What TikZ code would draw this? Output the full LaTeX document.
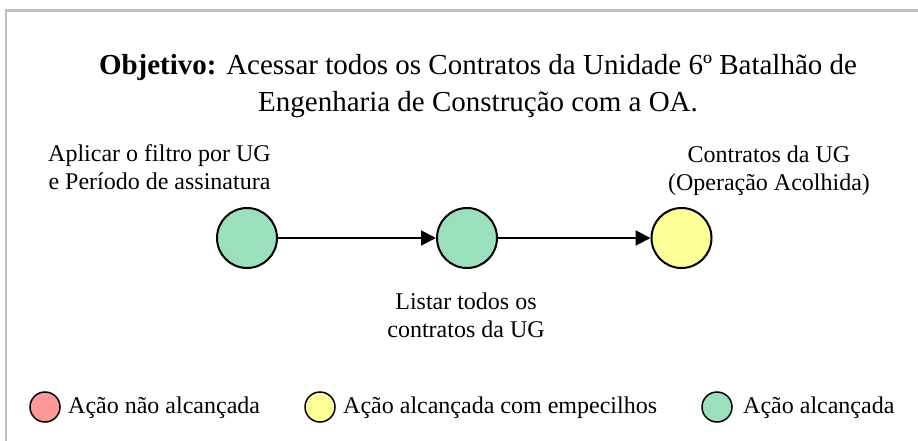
\documentclass[tikz,border=0pt]{standalone}
\usepackage{fontspec}
\setmainfont{Liberation Serif}
\usetikzlibrary{arrows.meta}
\definecolor{okgreen}{RGB}{154,224,188}
\definecolor{warnyellow}{RGB}{255,255,153}
\definecolor{failred}{RGB}{255,153,153}
\definecolor{framegray}{RGB}{192,192,192}
\begin{document}
\begin{tikzpicture}[x=1pt,y=-1pt,
  state/.style={circle,draw=black,line width=2pt,minimum size=60pt,inner sep=0pt},
  legendmark/.style={circle,draw=black,line width=1.5pt,minimum size=30pt,inner sep=0pt},
  lbl/.style={align=center,inner sep=0pt,font=\fontsize{24}{27.6}\selectfont},
  legtext/.style={anchor=base west,inner sep=0pt,font=\fontsize{24}{27.6}\selectfont},
  flow/.style={line width=2pt,-{Triangle[length=15pt,width=15pt]}}]
\useasboundingbox (0,0) rectangle (918,441);
\fill[white] (0,0) rectangle (918,441);
% frame
\draw[framegray,line width=2.5pt] (6,445) -- (6,10.5) -- (925,10.5);
% title
\node[align=center,inner sep=0pt,anchor=base,font=\fontsize{29}{37}\selectfont] (title) at (478,112)
  {\textbf{Objetivo:} Acessar todos os Contratos da Unidade 6º Batalhão de\\Engenharia de Construção com a OA.};
% states
\node[state,fill=okgreen] (s1) at (247,238) {};
\node[state,fill=okgreen] (s2) at (467,238) {};
\node[state,fill=warnyellow] (s3) at (681.5,238) {};
\draw[flow] (s1) -- (s2);
\draw[flow] (s2) -- (s3);
% labels
\node[lbl,anchor=base] (l1) at (159.5,189) {Aplicar o filtro por UG\\e Período de assinatura};
\node[lbl,anchor=base] (l2) at (466,337) {Listar todos os\\contratos da UG};
\node[lbl,anchor=base] (l3) at (769,190) {Contratos da UG\\(Operação Acolhida)};
% legend
\node[legendmark,fill=failred] (m1) at (45,407) {};
\node[legtext] (t1) at (68,413) {Ação não alcançada};
\node[legendmark,fill=warnyellow] (m2) at (320,407) {};
\node[legtext] (t2) at (343,413) {Ação alcançada com empecilhos};
\node[legendmark,fill=okgreen] (m3) at (717,407) {};
\node[legtext] (t3) at (743,413) {Ação alcançada};
\end{tikzpicture}
\end{document}
